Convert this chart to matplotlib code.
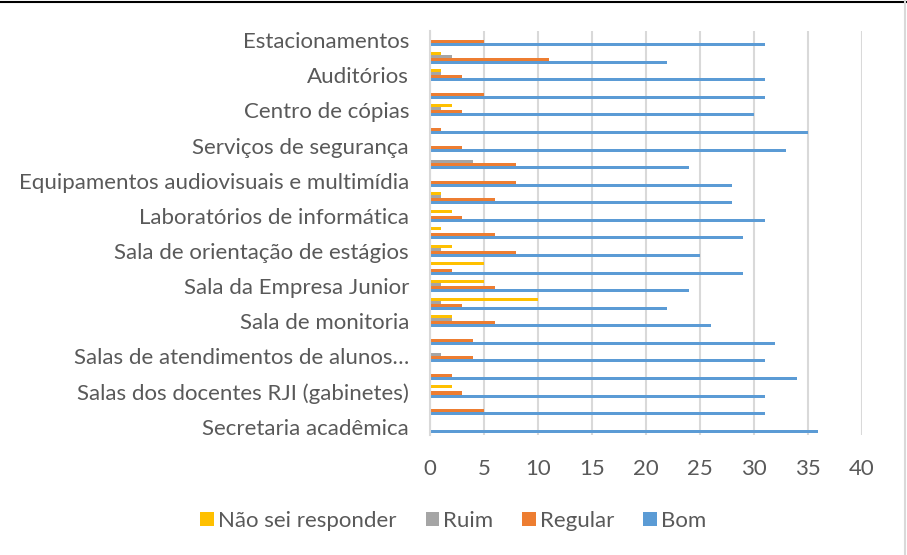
import numpy as np
import matplotlib.pyplot as plt
from matplotlib.lines import Line2D

plt.rcParams['font.family'] = ['Lato', 'DejaVu Sans']

# categorias de baixo para cima (só metade dos rótulos aparece no gráfico original)
categorias = [
    'Secretaria acadêmica', '',
    'Salas dos docentes RJI (gabinetes)', '',
    'Salas de atendimentos de alunos…', '',
    'Sala de monitoria', '',
    'Sala da Empresa Junior', '',
    'Sala de orientação de estágios', '',
    'Laboratórios de informática', '',
    'Equipamentos audiovisuais e multimídia', '',
    'Serviços de segurança', '',
    'Centro de cópias', '',
    'Auditórios', '',
    'Estacionamentos',
]

nao_sei = [0, 0, 2, 0, 0, 0, 2, 10, 5, 5, 2, 1, 2, 1, 0, 0, 0, 0, 2, 0, 1, 1, 0]
ruim    = [0, 0, 0, 0, 1, 0, 2, 1, 1, 0, 1, 0, 0, 1, 0, 4, 0, 0, 1, 0, 1, 2, 0]
regular = [0, 5, 3, 2, 4, 4, 6, 3, 6, 2, 8, 6, 3, 6, 8, 8, 3, 1, 3, 5, 3, 11, 5]
bom     = [36, 31, 31, 34, 31, 32, 26, 22, 24, 29, 25, 29, 31, 28, 28, 24, 33, 35, 30, 31, 31, 22, 31]

series = ['Não sei responder', 'Ruim', 'Regular', 'Bom']
cores = ['#FFC000', '#A5A5A5', '#ED7D31', '#5B9BD5']
texto = '#595959'

fig = plt.figure(figsize=(9.07, 5.55), dpi=100)
ax = fig.add_axes([0.474, 0.2155, 0.476, 0.728])

y = np.arange(len(categorias))
h = 0.172
offsets = [1.5 * h, 0.5 * h, -0.5 * h, -1.5 * h]
for vals, nome, cor, off in zip([nao_sei, ruim, regular, bom], series, cores, offsets):
    ax.barh(y + off, vals, height=h, color=cor, label=nome)

ax.set_xlim(0, 40)
ax.set_ylim(-0.5, len(categorias) - 0.5)
ax.set_xticks(range(0, 41, 5))
ax.set_yticks(y[::2])
ax.set_yticklabels(categorias[::2])
ax.tick_params(axis='both', length=0, labelsize=16, labelcolor=texto)
ax.tick_params(axis='x', pad=17)
ax.tick_params(axis='y', pad=15)

ax.grid(axis='x', color='#D9D9D9', linewidth=1.5)
ax.set_axisbelow(True)
for s in ['top', 'right', 'bottom']:
    ax.spines[s].set_visible(False)
ax.spines['left'].set_color('#D9D9D9')
ax.spines['left'].set_linewidth(1.5)

fig.legend(loc='center', bbox_to_anchor=(0.5, 0.062), ncol=4, frameon=False,
           fontsize=16, labelcolor=texto, handlelength=0.6, handleheight=0.6,
           handletextpad=0.2, columnspacing=1.3)

# moldura do gráfico
fig.add_artist(Line2D([0, 1], [0.997, 0.997], color='black', linewidth=1.5))
fig.add_artist(Line2D([0.998, 0.998], [0, 1], color='#D9D9D9', linewidth=1.5))

fig.savefig('out.png', dpi=100)
